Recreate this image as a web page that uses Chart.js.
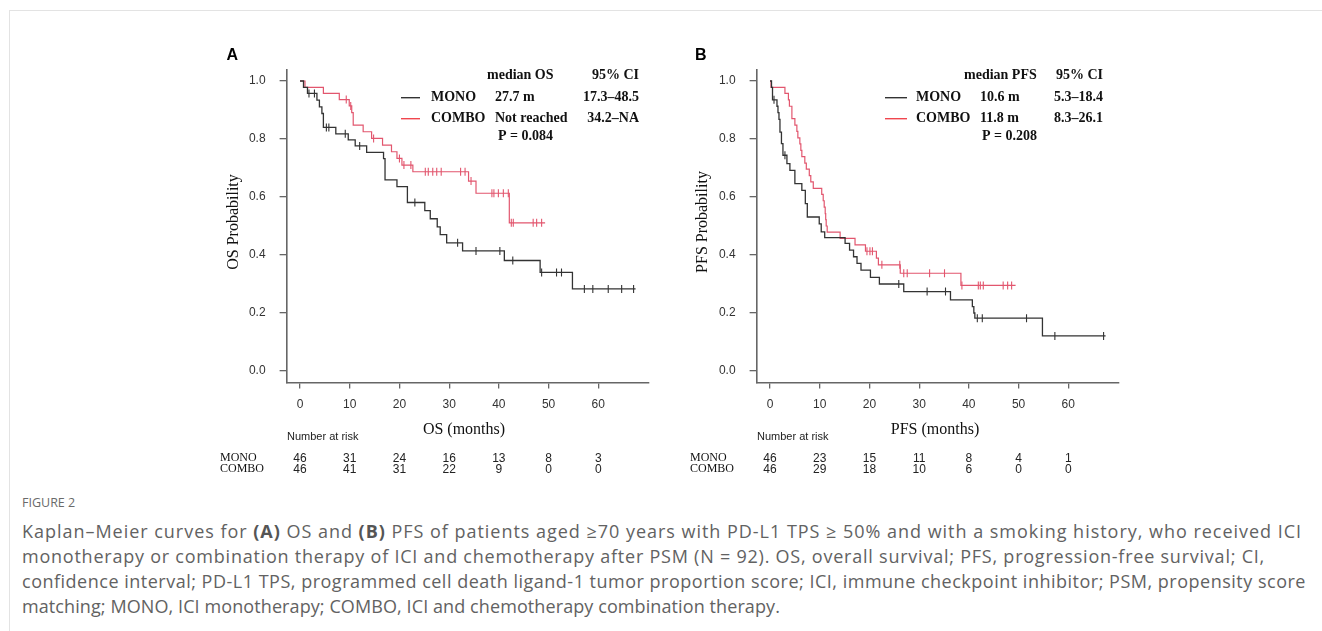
<!DOCTYPE html>
<html>
<head>
<meta charset="utf-8">
<script src="https://cdn.jsdelivr.net/npm/chart.js@4.4.1/dist/chart.umd.min.js"></script>
<style>
html, body { margin: 0; padding: 0; background: #fff; width: 1322px; height: 631px; overflow: hidden; }
.frame { position: absolute; left: 9px; top: 10px; right: 0; bottom: 0; border-left: 1px solid #e3e3e3; border-top: 1px solid #e3e3e3; }
.panel { position: absolute; top: 30px; }
#capTitle { position: absolute; left: 22px; top: 494px; font: 12.5px "Open Sans"; color: #6a6a6a; }
.capLine { position: absolute; left: 22px; font: 18px "Open Sans"; color: #626262; white-space: nowrap; line-height: 20px; }
.capLine b { color: #555; }
</style>
</head>
<body>
<div class="frame"></div>
<canvas id="chartA" class="panel" style="left:200px" width="470" height="460"></canvas>
<canvas id="chartB" class="panel" style="left:670px" width="470" height="460"></canvas>
<div id="capTitle">FIGURE 2</div>
<div class="capLine" data-w="1280" style="top:521px">Kaplan–Meier curves for <b>(A)</b> OS and <b>(B)</b> PFS of patients aged ≥70 years with PD-L1 TPS ≥ 50% and with a smoking history, who received ICI</div>
<div class="capLine" data-w="1243" style="top:546px">monotherapy or combination therapy of ICI and chemotherapy after PSM (N = 92). OS, overall survival; PFS, progression-free survival; CI,</div>
<div class="capLine" data-w="1284" style="top:571px">confidence interval; PD-L1 TPS, programmed cell death ligand-1 tumor proportion score; ICI, immune checkpoint inhibitor; PSM, propensity score</div>
<div class="capLine" data-w="758" style="top:596px">matching; MONO, ICI monotherapy; COMBO, ICI and chemotherapy combination therapy.</div>
<script>
// axis ticks
var xTicks = [0, 10, 20, 30, 40, 50, 60];
var yTicks = [0, 0.2, 0.4, 0.6, 0.8, 1.0];

// OS - MONO (event times / survival after the event)
var osMonoTimes = [0, 0.7, 1.5, 3.4, 3.9, 4.4, 4.7, 7.2, 9.7, 11.1, 13.4, 16.8, 17.1, 19.5, 21.6, 25.1, 26.2, 27.6, 28.2, 29.5, 32.7, 41.1, 48.3, 54.8, 67.5];
var osMonoSurv  = [1.0, 0.978, 0.957, 0.934, 0.911, 0.888, 0.840, 0.818, 0.797, 0.776, 0.754, 0.732, 0.659, 0.636, 0.581, 0.553, 0.525, 0.497, 0.470, 0.442, 0.414, 0.381, 0.340, 0.283, 0.283];
var osMonoCensor = [1.8, 2.9, 5.3, 5.8, 9.1, 12.0, 23.1, 31.7, 35.4, 40.2, 42.8, 48.6, 51.6, 52.6, 57.2, 58.9, 62.0, 64.7, 67.1];

// OS - COMBO
var osComboTimes = [0, 1.0, 4.7, 7.9, 9.9, 10.4, 10.7, 12.7, 14.4, 16.6, 18.4, 19.5, 20.5, 22.7, 33.9, 35.4, 42.1, 49.3];
var osComboSurv  = [1.0, 0.978, 0.957, 0.936, 0.914, 0.891, 0.848, 0.825, 0.802, 0.779, 0.756, 0.733, 0.710, 0.687, 0.655, 0.613, 0.511, 0.511];
var osComboCensor = [9.3, 10.2, 14.8, 20.0, 20.9, 22.3, 25.2, 25.8, 26.7, 27.5, 28.4, 32.3, 33.2, 34.4, 38.6, 39.0, 39.9, 40.9, 41.9, 42.5, 42.9, 46.9, 47.6, 48.6];

// PFS - MONO
var pfsMonoTimes = [0, 0.3, 0.5, 1.4, 1.6, 1.8, 2.0, 2.3, 2.6, 3.4, 4.0, 5.0, 6.4, 7.1, 7.5, 9.9, 10.3, 11.0, 15.1, 16.0, 16.8, 17.5, 18.3, 20.2, 22.0, 26.9, 36.3, 40.7, 41.0, 41.2, 54.8, 67.5];
var pfsMonoSurv  = [1.0, 0.978, 0.935, 0.913, 0.891, 0.868, 0.824, 0.784, 0.744, 0.715, 0.692, 0.646, 0.623, 0.577, 0.531, 0.507, 0.480, 0.460, 0.440, 0.417, 0.394, 0.371, 0.348, 0.323, 0.300, 0.274, 0.245, 0.222, 0.200, 0.182, 0.121, 0.121];
var pfsMonoCensor = [0.8, 3.0, 25.9, 31.6, 35.3, 41.7, 42.7, 51.6, 57.3, 67.1];

// PFS - COMBO
var pfsComboTimes = [0, 0.2, 3.0, 3.7, 3.9, 4.4, 5.0, 5.4, 5.6, 6.0, 6.2, 6.4, 7.0, 7.3, 7.9, 8.2, 8.7, 10.4, 10.7, 10.9, 11.1, 11.2, 11.3, 11.5, 14.1, 17.1, 19.2, 21.4, 21.8, 26.2, 38.4, 49.4];
var pfsComboSurv  = [1.0, 0.978, 0.957, 0.935, 0.913, 0.870, 0.848, 0.826, 0.804, 0.783, 0.761, 0.739, 0.717, 0.696, 0.674, 0.652, 0.630, 0.609, 0.587, 0.565, 0.543, 0.522, 0.500, 0.479, 0.457, 0.435, 0.413, 0.389, 0.366, 0.337, 0.295, 0.295];
var pfsComboCensor = [19.5, 20.1, 20.6, 22.5, 26.1, 26.9, 27.6, 32.1, 35.1, 38.6, 41.9, 42.3, 42.9, 46.9, 47.8, 48.6];

// number at risk
var osRiskMono = [46, 31, 24, 16, 13, 8, 3];
var osRiskCombo = [46, 41, 31, 22, 9, 0, 0];
var pfsRiskMono = [46, 23, 15, 11, 8, 4, 1];
var pfsRiskCombo = [46, 29, 18, 10, 6, 0, 0];

// legend text
var groupNames = ['MONO', 'COMBO'];
var osMedians = ['27.7 m', 'Not reached'];
var osCI = ['17.3–48.5', '34.2–NA'];
var pfsMedians = ['10.6 m', '11.8 m'];
var pfsCI = ['5.3–18.4', '8.3–26.1'];

var MONO_COLOR = '#333333';
var COMBO_COLOR = '#e2566e';
var COMBO_LEGEND = '#f0464e';
var AXIS_COLOR = '#666666';
var SERIF = '"Liberation Serif", "Times New Roman", serif';
var SANS = '"Liberation Sans", Arial, sans-serif';

function toPoints(times, surv) {
    return times.map(function (t, i) { return { x: t, y: surv[i] }; });
}

function survAt(times, surv, t) {
    var s = surv[0];
    for (var i = 0; i < times.length; i++) {
        if (times[i] <= t) s = surv[i];
    }
    return s;
}

function censorPoints(times, surv, cens) {
    return cens.map(function (t) { return { x: t, y: survAt(times, surv, t) }; });
}

function txt(ctx, s, x, y, font, color, align) {
    ctx.font = font;
    ctx.fillStyle = color;
    ctx.textAlign = align || 'left';
    ctx.textBaseline = 'middle';
    ctx.fillText(s, x, y);
}

var annotations = {
    id: 'kmText',
    afterDraw: function (chart) {
        var o = chart.options.plugins.kmText;
        var ctx = chart.ctx;
        var xs = chart.scales.x;
        ctx.save();
        txt(ctx, o.letter, o.letterX, 26, 'bold 16px ' + SANS, '#000');

        // legend block
        var bold = 'bold 14px ' + SERIF;
        txt(ctx, o.medHead, o.medHeadX, 45, bold, '#111');
        txt(ctx, '95% CI', o.ciX, 45, bold, '#111', 'right');
        var rowY = [67.7, 88.7];
        var lineCols = [MONO_COLOR, COMBO_LEGEND];
        for (var i = 0; i < 2; i++) {
            ctx.strokeStyle = lineCols[i];
            ctx.lineWidth = 1.4;
            ctx.beginPath();
            ctx.moveTo(o.lineX1, rowY[i]);
            ctx.lineTo(o.lineX2, rowY[i]);
            ctx.stroke();
            txt(ctx, groupNames[i], o.nameX, rowY[i], bold, '#111');
            txt(ctx, o.medians[i], o.medX, rowY[i], bold, '#111');
            txt(ctx, o.ci[i], o.ciX, rowY[i], bold, '#111', 'right');
        }
        txt(ctx, o.pText, o.pX, 106.7, bold, '#111');

        // axis titles
        txt(ctx, o.xTitle, o.xTitleX, 400, '16px ' + SERIF, '#111', 'center');
        ctx.save();
        ctx.translate(o.yTitleX, 192);
        ctx.rotate(-Math.PI / 2);
        txt(ctx, o.yTitle, 0, 0, '16px ' + SERIF, '#111', 'center');
        ctx.restore();

        // number at risk table
        txt(ctx, 'Number at risk', 87, 406.7, '11px ' + SANS, '#222');
        var riskY = [428.3, 439.3];
        for (var r = 0; r < 2; r++) {
            txt(ctx, groupNames[r], 20, riskY[r], '12px ' + SERIF, '#111');
            o.risk[r].forEach(function (n, k) {
                txt(ctx, String(n), xs.getPixelForValue(xTicks[k]), riskY[r], '12px ' + SANS, '#222', 'center');
            });
        }
        ctx.restore();
    }
};

function makeChart(id, mono, combo, opts) {
    var axisGrid = { drawOnChartArea: false, drawTicks: true, color: AXIS_COLOR, lineWidth: 1.3 };
    new Chart(document.getElementById(id), {
        type: 'line',
        data: {
            datasets: [
                { data: toPoints(mono.t, mono.s), borderColor: MONO_COLOR, borderWidth: 1.3, pointRadius: 0, stepped: true, fill: false },
                { data: toPoints(combo.t, combo.s), borderColor: COMBO_COLOR, borderWidth: 1.2, pointRadius: 0, stepped: true, fill: false },
                { data: censorPoints(mono.t, mono.s, mono.c), showLine: false, pointStyle: 'line', pointRotation: 90, pointRadius: 4, pointBorderColor: MONO_COLOR, pointBorderWidth: 1.1, borderColor: MONO_COLOR },
                { data: censorPoints(combo.t, combo.s, combo.c), showLine: false, pointStyle: 'line', pointRotation: 90, pointRadius: 4, pointBorderColor: COMBO_COLOR, pointBorderWidth: 1.1, borderColor: COMBO_COLOR }
            ]
        },
        options: {
            responsive: false,
            animation: false,
            events: [],
            layout: { padding: { left: 46.6, right: 21, top: 39.4, bottom: 77.4 } },
            plugins: { legend: { display: false }, tooltip: { enabled: false }, kmText: opts },
            scales: {
                x: {
                    type: 'linear', min: -2.7, max: 70.2,
                    afterBuildTicks: function (s) { s.ticks = xTicks.map(function (v) { return { value: v }; }); },
                    afterFit: function (s) { s.height = 30; },
                    grid: Object.assign({ tickLength: 6 }, axisGrid),
                    border: { display: true, color: AXIS_COLOR, width: 1.6 },
                    ticks: { padding: 9, color: '#333', autoSkip: false, maxRotation: 0, font: { family: SANS, size: 12 },
                        callback: function (v) { return String(v); } }
                },
                y: {
                    type: 'linear', min: -0.04, max: 1.04,
                    afterBuildTicks: function (s) { s.ticks = yTicks.map(function (v) { return { value: v }; }); },
                    afterFit: function (s) { s.width = 40; },
                    grid: Object.assign({ tickLength: 7 }, axisGrid),
                    border: { display: true, color: AXIS_COLOR, width: 1.6 },
                    ticks: { padding: 14, color: '#333', font: { family: SANS, size: 12 },
                        callback: function (v) { return Number(v).toFixed(1); } }
                }
            }
        },
        plugins: [annotations]
    });
}

makeChart('chartA',
    { t: osMonoTimes, s: osMonoSurv, c: osMonoCensor },
    { t: osComboTimes, s: osComboSurv, c: osComboCensor },
    { letter: 'A', letterX: 26.5, medHead: 'median OS', medHeadX: 287, ciX: 439, lineX1: 201, lineX2: 220, nameX: 231, medX: 295,
      medians: osMedians, ci: osCI, pText: 'P = 0.084', pX: 298, xTitle: 'OS (months)', xTitleX: 264, yTitle: 'OS Probability', yTitleX: 34,
      risk: [osRiskMono, osRiskCombo] });

makeChart('chartB',
    { t: pfsMonoTimes, s: pfsMonoSurv, c: pfsMonoCensor },
    { t: pfsComboTimes, s: pfsComboSurv, c: pfsComboCensor },
    { letter: 'B', letterX: 25, medHead: 'median PFS', medHeadX: 294, ciX: 433, lineX1: 215, lineX2: 237, nameX: 246, medX: 310,
      medians: pfsMedians, ci: pfsCI, pText: 'P = 0.208', pX: 312, xTitle: 'PFS (months)', xTitleX: 265, yTitle: 'PFS Probability', yTitleX: 33,
      risk: [pfsRiskMono, pfsRiskCombo] });

// stretch caption lines to the widths seen in the figure
document.querySelectorAll('.capLine').forEach(function (el) {
    var target = Number(el.getAttribute('data-w'));
    var w = el.getBoundingClientRect().width;
    var n = el.textContent.length;
    el.style.letterSpacing = ((target - w) / n).toFixed(3) + 'px';
});
</script>
</body>
</html>
